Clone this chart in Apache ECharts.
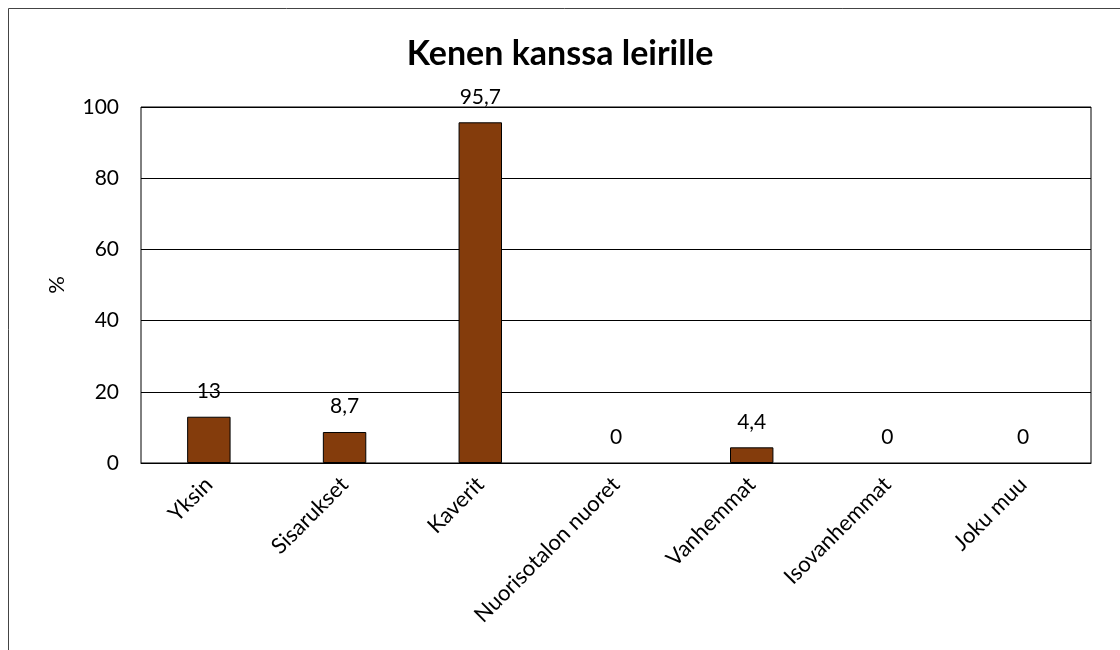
<!DOCTYPE html>
<html>
<head>
<meta charset="utf-8">
<script src="https://cdn.jsdelivr.net/npm/echarts@6/dist/echarts.min.js"></script>
<style>
  html, body { margin: 0; padding: 0; background: #fff; }
  #main { width: 1120px; height: 650px; }
</style>
</head>
<body>
<div id="main"></div>
<script>
// data
const categories = ['Yksin', 'Sisarukset', 'Kaverit', 'Nuorisotalon nuoret', 'Vanhemmat', 'Isovanhemmat', 'Joku muu'];
const values = [13, 8.7, 95.7, 0, 4.4, 0, 0];
const yTicks = [0, 20, 40, 60, 80, 100];

const font = 'Lato, "Open Sans", sans-serif';
const chart = echarts.init(document.getElementById('main'));

// zero bars have no visible outline in the original
const barData = values.map(v => v === 0
  ? { value: v, itemStyle: { borderWidth: 0 } }
  : v);

chart.setOption({
  animation: false,
  backgroundColor: '#fff',
  title: {
    text: 'Kenen kanssa leirille',
    left: 'center',
    top: 32,
    textStyle: { fontFamily: font, fontSize: 34, fontWeight: 'bold', color: '#000' }
  },
  graphic: [{
    type: 'rect',
    shape: { x: 8.5, y: 8.5, width: 1200, height: 800 },
    style: { fill: 'none', stroke: '#444', lineWidth: 1 },
    silent: true
  }],
  grid: {
    left: 141, top: 107, right: 29, bottom: 187,
    show: true, borderColor: '#000', borderWidth: 1
  },
  xAxis: {
    type: 'category',
    data: categories,
    axisLine: { lineStyle: { color: '#000', width: 1 } },
    axisTick: { show: false },
    axisLabel: {
      rotate: 45, interval: 0, margin: 18,
      color: '#000', fontFamily: font, fontSize: 22
    }
  },
  yAxis: {
    type: 'value',
    min: yTicks[0], max: yTicks[yTicks.length - 1], interval: 20,
    name: '%',
    nameLocation: 'middle',
    nameGap: 73,
    nameRotate: 90,
    nameTextStyle: { fontFamily: font, fontSize: 22, color: '#000' },
    axisLine: { show: false },
    axisTick: { show: false },
    axisLabel: { color: '#000', fontFamily: font, fontSize: 21, margin: 22 },
    splitLine: { lineStyle: { color: '#000', width: 1 } }
  },
  series: [{
    type: 'bar',
    data: barData,
    barWidth: '32%',
    itemStyle: { color: '#843C0C', borderColor: '#000', borderWidth: 1 },
    label: {
      show: true, position: 'top', distance: 15,
      color: '#000', fontFamily: font, fontSize: 21,
      formatter: p => String(p.value).replace('.', ',')
    }
  }]
});
</script>
</body>
</html>
